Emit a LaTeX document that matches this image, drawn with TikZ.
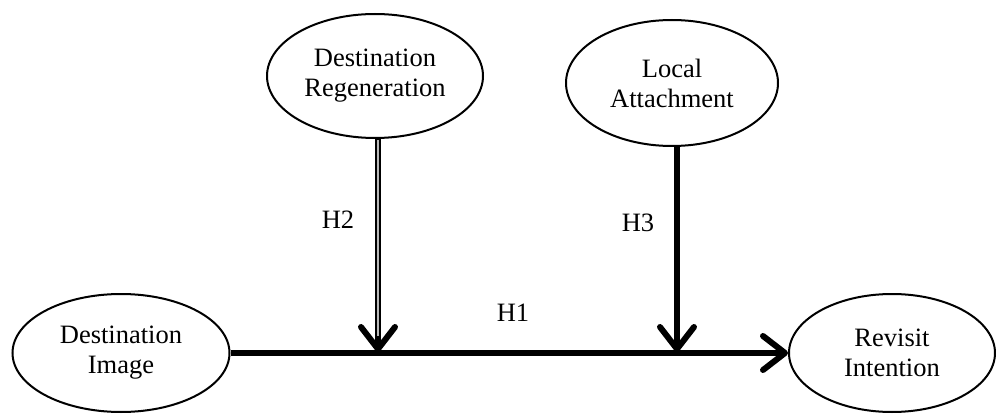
\documentclass[tikz,border=0pt]{standalone}
\usepackage{fontspec}
\setmainfont{Liberation Serif}
\usetikzlibrary{shapes.geometric,arrows.meta}
\begin{document}
\begin{tikzpicture}[x=1pt,y=-1pt,
  construct/.style={draw, ellipse, line width=2pt, inner sep=0pt,
    align=center, font=\fontsize{26.5}{30}\selectfont},
  path/.style={line width=6pt, line cap=round,
    -{Straight Barb[length=22pt,width=34pt,round]}},
  hlabel/.style={font=\fontsize{26.5}{30}\selectfont}]
  \useasboundingbox (0,0) rectangle (996,414);
  % constructs
  \node[construct, minimum width=216pt, minimum height=124pt] (dr) at (375,76) {Destination\\Regeneration};
  \node[construct, minimum width=212pt, minimum height=126pt] (la) at (672,83) {Local\\Attachment};
  \node[construct, minimum width=217pt, minimum height=118pt] (di) at (121,353) {Destination\\Image};
  \node[construct, minimum width=206pt, minimum height=118pt] (ri) at (892,353) {Revisit\\Intention};
  % points where the moderating paths meet the main path
  \coordinate (j2) at (378,352);
  \coordinate (j3) at (677,352);
  % main effect
  \draw[path, line cap=butt] (di.east) -- (ri.west);
  % moderating effects
  \draw[path, line cap=butt] (dr.south -| j2) -- (j2);
  \draw[gray!55, line width=2.4pt, shorten <=1pt, shorten >=16pt] (dr.south -| j2) -- (j2);
  \draw[path, line cap=butt] (la.south -| j3) -- (j3);
  % labels
  \node[hlabel] (h1) at (513,313) {H1};
  \node[hlabel] (h2) at (338,220) {H2};
  \node[hlabel] (h3) at (638,223) {H3};
\end{tikzpicture}
\end{document}
